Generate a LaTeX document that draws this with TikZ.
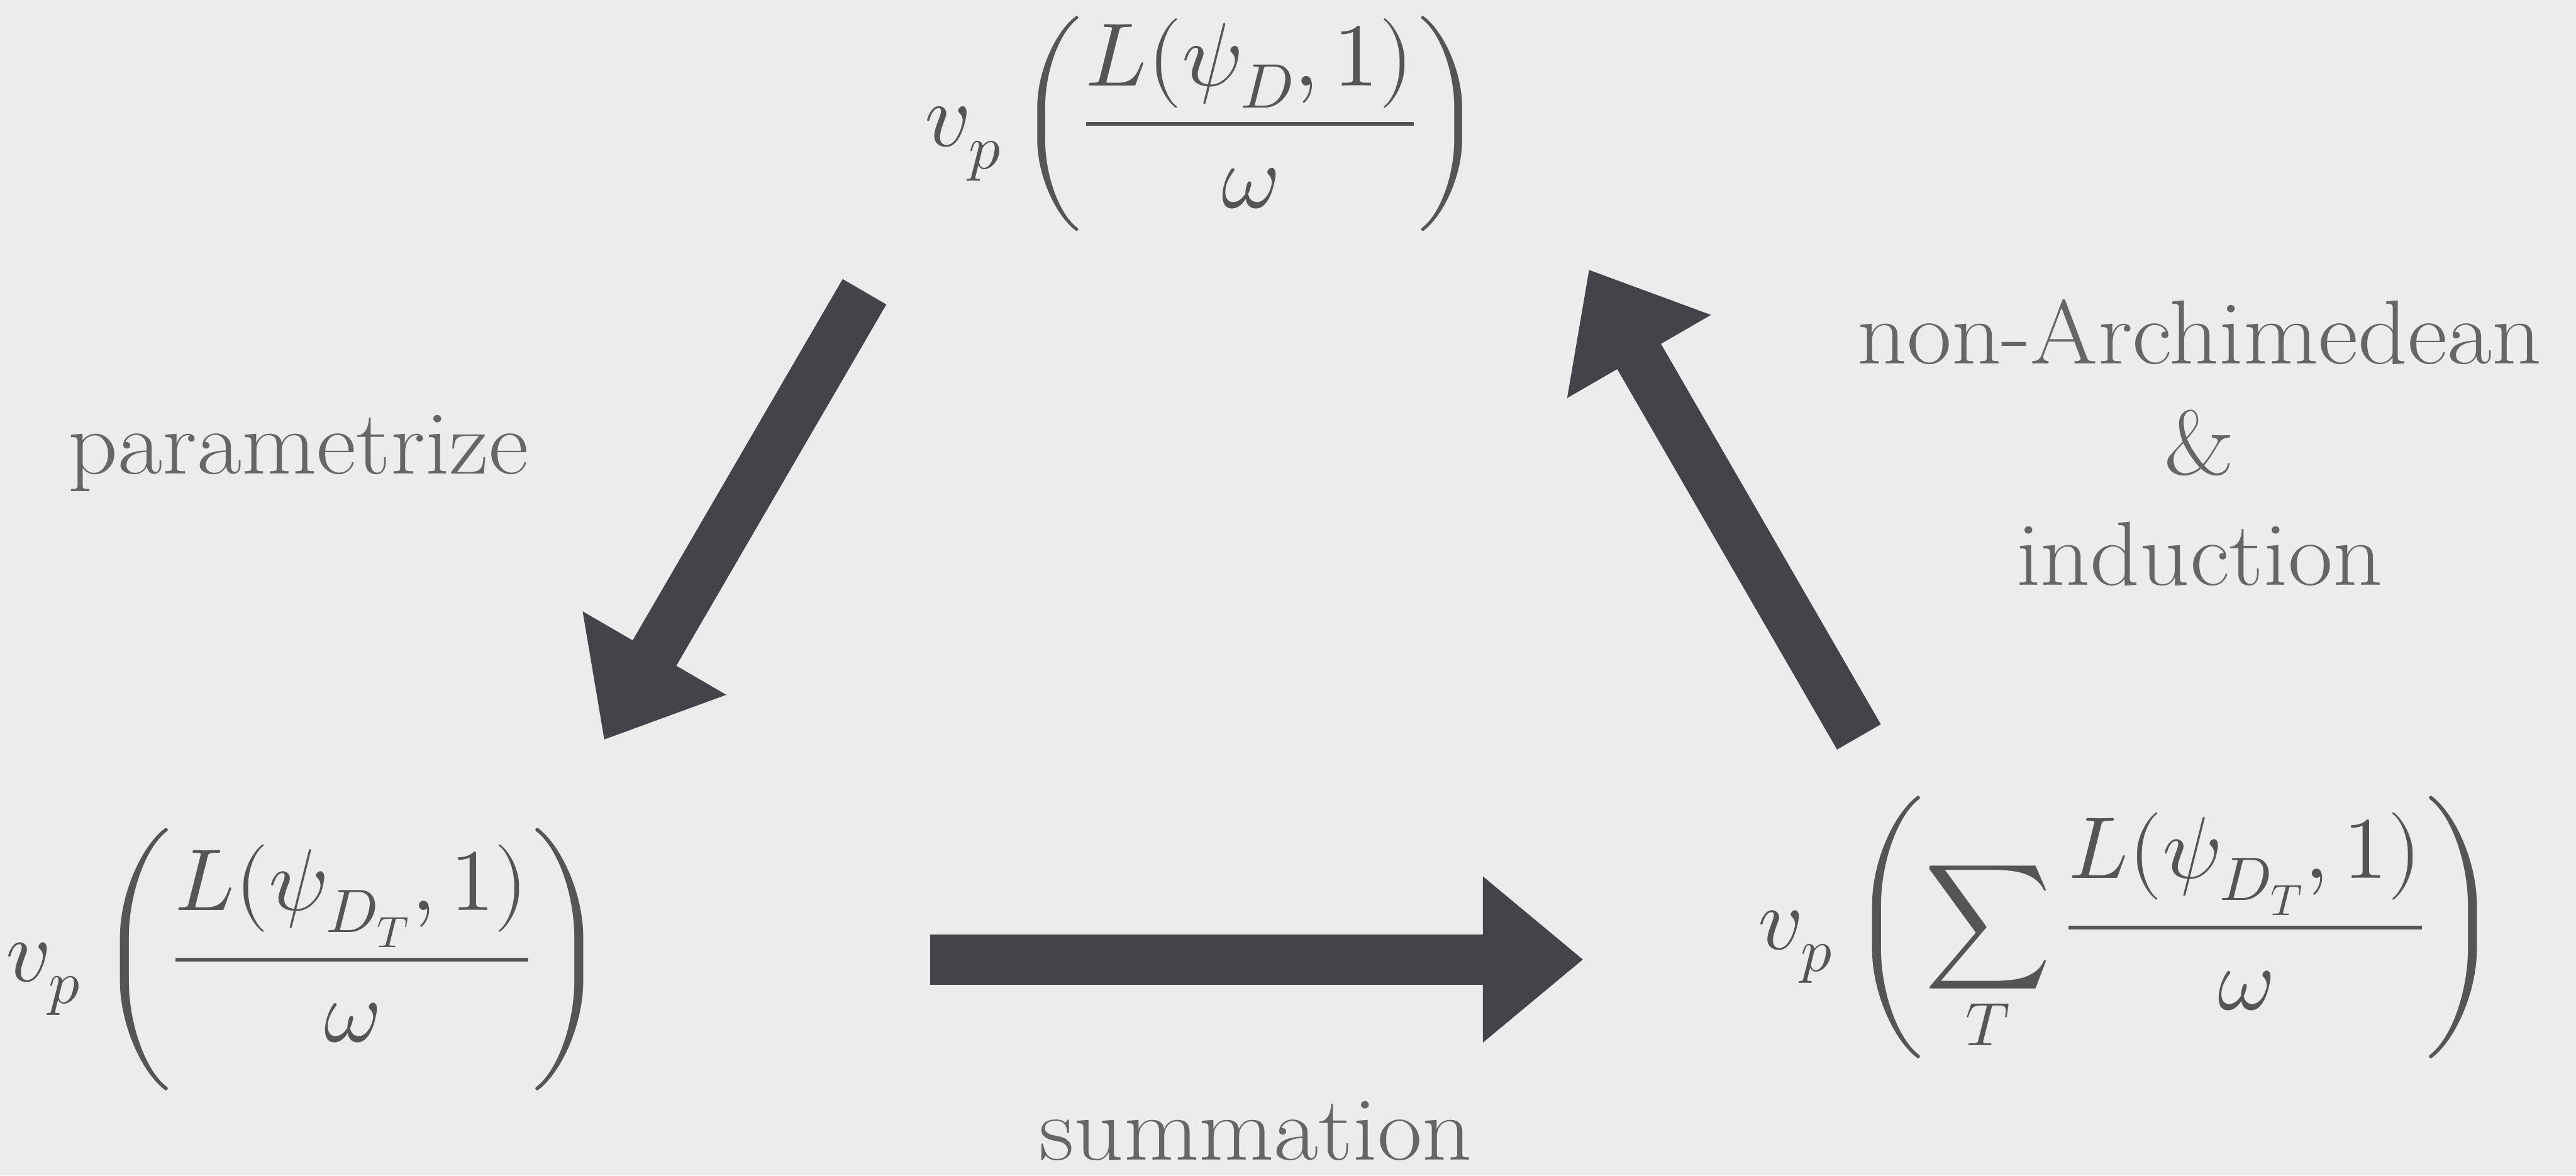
\documentclass[tikz,border=0pt]{standalone}
\usepackage{amsmath}
\usepackage{unicode-math}
\usepackage{tikz}
\usetikzlibrary{arrows.meta, positioning}
\newfontfamily\capfont{Latin Modern Roman}[FakeStretch=1.07]
\definecolor{paper}{HTML}{ECECEC}
\definecolor{inkgray}{HTML}{555555}
\definecolor{labelgray}{HTML}{666666}
\definecolor{arrowdark}{HTML}{444349}

\tikzset{
  formula/.style={text=inkgray, inner sep=0pt, font=\fontsize{42.5}{51}\selectfont},
  smallformula/.style={formula, font=\fontsize{41.5}{50}\selectfont},
  caption/.style={text=labelgray, inner sep=0pt, align=center,
                  font=\capfont\fontsize{43}{52.4}\selectfont},
  bigarrow/.style={draw=arrowdark, line width=0.84cm,
                   -{Triangle[width=2.65cm,length=1.67cm]}}
}

\begin{document}
\begin{tikzpicture}
    \fill[paper] (0,0) rectangle (42.82,-19.54);
    \useasboundingbox (0,0) rectangle (42.82,-19.54);

    \node[formula] (top) at (20.01,-2.06)
      {$\displaystyle v_p\left(\frac{L(\psi_D,1)}{\omega}\right)$};
    \node[smallformula] (single) at (5.10,-15.95)
      {$\displaystyle v_p\left(\frac{L(\psi_{D_T},1)}{\omega}\right)$};
    \node[smallformula] (sum) at (35.40,-15.42)
      {$\displaystyle v_p\left(\sum_T\frac{L(\psi_{D_T},1)}{\omega}\right)$};

    \node[caption, anchor=base] (param) at (4.96,-7.88) {parametrize};
    \node[caption, anchor=base] (summ) at (20.87,-19.28) {summation};
    \node[caption] (nonarch) at (36.56,-7.36) {non-Archimedean\\\&\\induction};

    \coordinate (paramtail) at (14.37,-4.85);
    \coordinate (paramtip) at (10.04,-12.30);
    \coordinate (summtail) at (15.46,-15.95);
    \coordinate (summtip) at (26.32,-15.95);
    \coordinate (archtail) at (30.90,-12.25);
    \coordinate (archtip) at (26.41,-4.48);

    \draw[bigarrow] (paramtail) -- (paramtip);
    \draw[bigarrow] (summtail) -- (summtip);
    \draw[bigarrow] (archtail) -- (archtip);
  \end{tikzpicture}
\end{document}
